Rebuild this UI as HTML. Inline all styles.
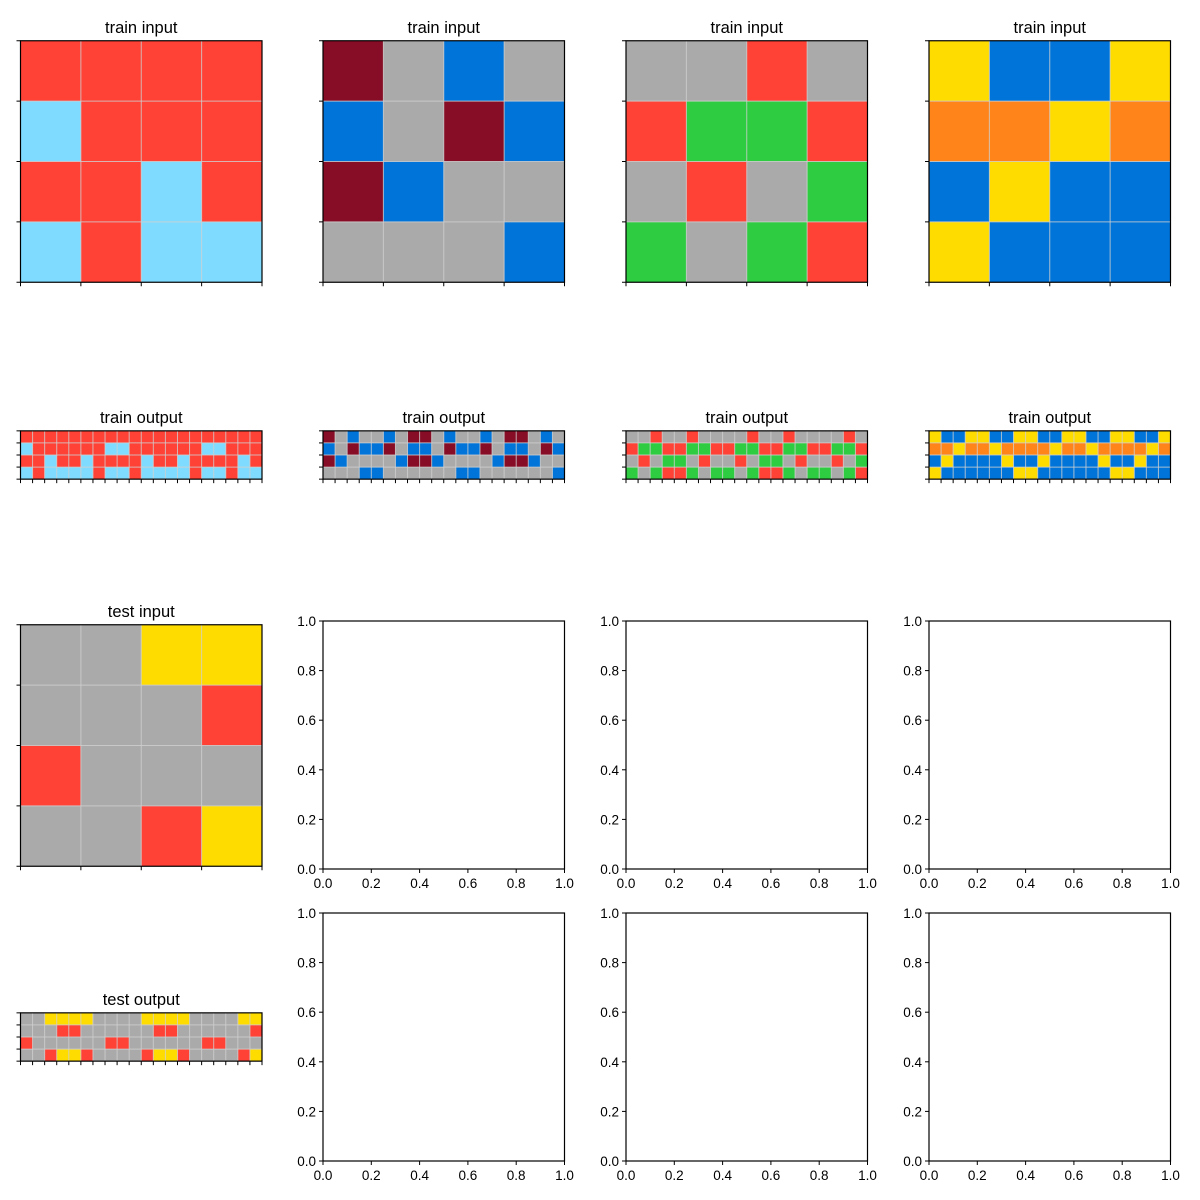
<!DOCTYPE html>
<html><head><meta charset="utf-8"><style>
body{margin:0;background:#fff;}
svg{display:block;font-family:"Liberation Sans","DejaVu Sans",sans-serif;}
</style></head><body>
<svg id="fig" width="1200" height="1200" viewBox="0 0 1200 1200" xmlns="http://www.w3.org/2000/svg"></svg>
<script>
const palette={R:"#FF4136",C:"#7FDBFF",M:"#870C25",G:"#AAAAAA",B:"#0074D9",N:"#2ECC40",Y:"#FFDC00",O:"#FF851B"};
const train1In=["RRRR","CRRR","RRCR","CRCC"];
const train1Out=["RRRRRRRRRRRRRRRRRRRR","CRRRRRRCCRRRRRRCCRRR","RRCRRCRRRRCRRCRRRRCR","CRCCCCRCCRCCCCRCCRCC"];
const train2In=["MGBG","BGMB","MBGG","GGGB"];
const train2Out=["MGBGGBGMMGBGGBGMMGBG","BGMBBMGBBGMBBMGBBGMB","MBGGGGBMMBGGGGBMMBGG","GGGBBGGGGGGBBGGGGGGB"];
const train3In=["GGRG","RNNR","GRGN","NGNR"];
const train3Out=["GGRGGRGGGGRGGRGGGGRG","RNNRRNNRRNNRRNNRRNNR","GRGNNGRGGRGNNGRGGRGN","NGNRRNGNNGNRRNGNNGNR"];
const train4In=["YBBY","OOYO","BYBB","YBBB"];
const train4Out=["YBBYYBBYYBBYYBBYYBBY","OOYOOYOOOOYOOYOOOOYO","BYBBBBYBBYBBBBYBBYBB","YBBBBBBYYBBBBBBYYBBB"];
const testIn=["GGYY","GGGR","RGGG","GGRY"];
const testOut=["GGYYYYGGGGYYYYGGGGYY","GGGRRGGGGGGRRGGGGGGR","RGGGGGGRRGGGGGGRRGGG","GGRYYRGGGGRYYRGGGGRY"];
const emptyTicks=["0.0","0.2","0.4","0.6","0.8","1.0"];

const svg=document.getElementById('fig');
const NS="http://www.w3.org/2000/svg";
function mk(tag,attrs,parent){const e=document.createElementNS(NS,tag);for(const k in attrs)e.setAttribute(k,attrs[k]);(parent||svg).appendChild(e);return e;}

const colX=[20.5,323,626,929];
const W=241.5;
function drawGrid(grid,x0,cy,title,name){
  const rows=grid.length,cols=grid[0].length;
  const cw=W/cols,h=cw*rows,y0=cy-h/2;
  const g=mk('g',{});
  
  
  for(let r=0;r<rows;r++)for(let c=0;c<cols;c++){
    const rc=mk('rect',{x:x0+c*cw,y:y0+r*cw,width:cw+0.3,height:cw+0.3,fill:palette[grid[r][c]]},g);
    
    
  }
  for(let c=1;c<cols;c++)mk('line',{x1:x0+c*cw,x2:x0+c*cw,y1:y0,y2:y0+h,stroke:"#d0d0d0","stroke-width":1,opacity:0.8},g);
  for(let r=1;r<rows;r++)mk('line',{x1:x0,x2:x0+W,y1:y0+r*cw,y2:y0+r*cw,stroke:"#d0d0d0","stroke-width":1,opacity:0.8},g);
  mk('rect',{x:x0,y:y0,width:W,height:h,fill:"none",stroke:"#000","stroke-width":1.2},g);
  for(let c=0;c<=cols;c++)mk('line',{x1:x0+c*cw,x2:x0+c*cw,y1:y0+h,y2:y0+h+4,stroke:"#000","stroke-width":1},g);
  for(let r=0;r<=rows;r++)mk('line',{x1:x0-4,x2:x0,y1:y0+r*cw,y2:y0+r*cw,stroke:"#000","stroke-width":1},g);
  const t=mk('text',{x:x0+W/2,y:y0-8,"text-anchor":"middle","font-size":16.5,fill:"#000"},g);
  t.textContent=title;
  
  
}
function drawEmpty(x0,y0,name){
  const g=mk('g',{});
  
  
  const h=248;
  mk('rect',{x:x0,y:y0,width:W,height:h,fill:"#fff",stroke:"#000","stroke-width":1.2},g);
  emptyTicks.forEach((lab,i)=>{
    const v=parseFloat(lab);
    const x=x0+v*W,y=y0+h-v*h;
    mk('line',{x1:x,x2:x,y1:y0+h,y2:y0+h+4,stroke:"#000"},g);
    mk('line',{x1:x0-4,x2:x0,y1:y,y2:y,stroke:"#000"},g);
    const tx=mk('text',{x:x,y:y0+h+19,"text-anchor":"middle","font-size":13.5},g);tx.textContent=lab;
    
    
    const ty=mk('text',{x:x0-7,y:y+5,"text-anchor":"end","font-size":13.5},g);ty.textContent=lab;
    
    
  });
}
const ins=[train1In,train2In,train3In,train4In];
const outs=[train1Out,train2Out,train3Out,train4Out];
ins.forEach((g,i)=>drawGrid(g,colX[i],161.5,"train input","train-input-"+(i+1)));
outs.forEach((g,i)=>drawGrid(g,colX[i],455,"train output","train-output-"+(i+1)));
drawGrid(testIn,colX[0],745.5,"test input","test-input");
drawGrid(testOut,colX[0],1037,"test output","test-output");
for(let i=1;i<4;i++){drawEmpty(colX[i],621,"empty-axes-r3-"+i);drawEmpty(colX[i],913,"empty-axes-r4-"+i);}
</script>
</body></html>
